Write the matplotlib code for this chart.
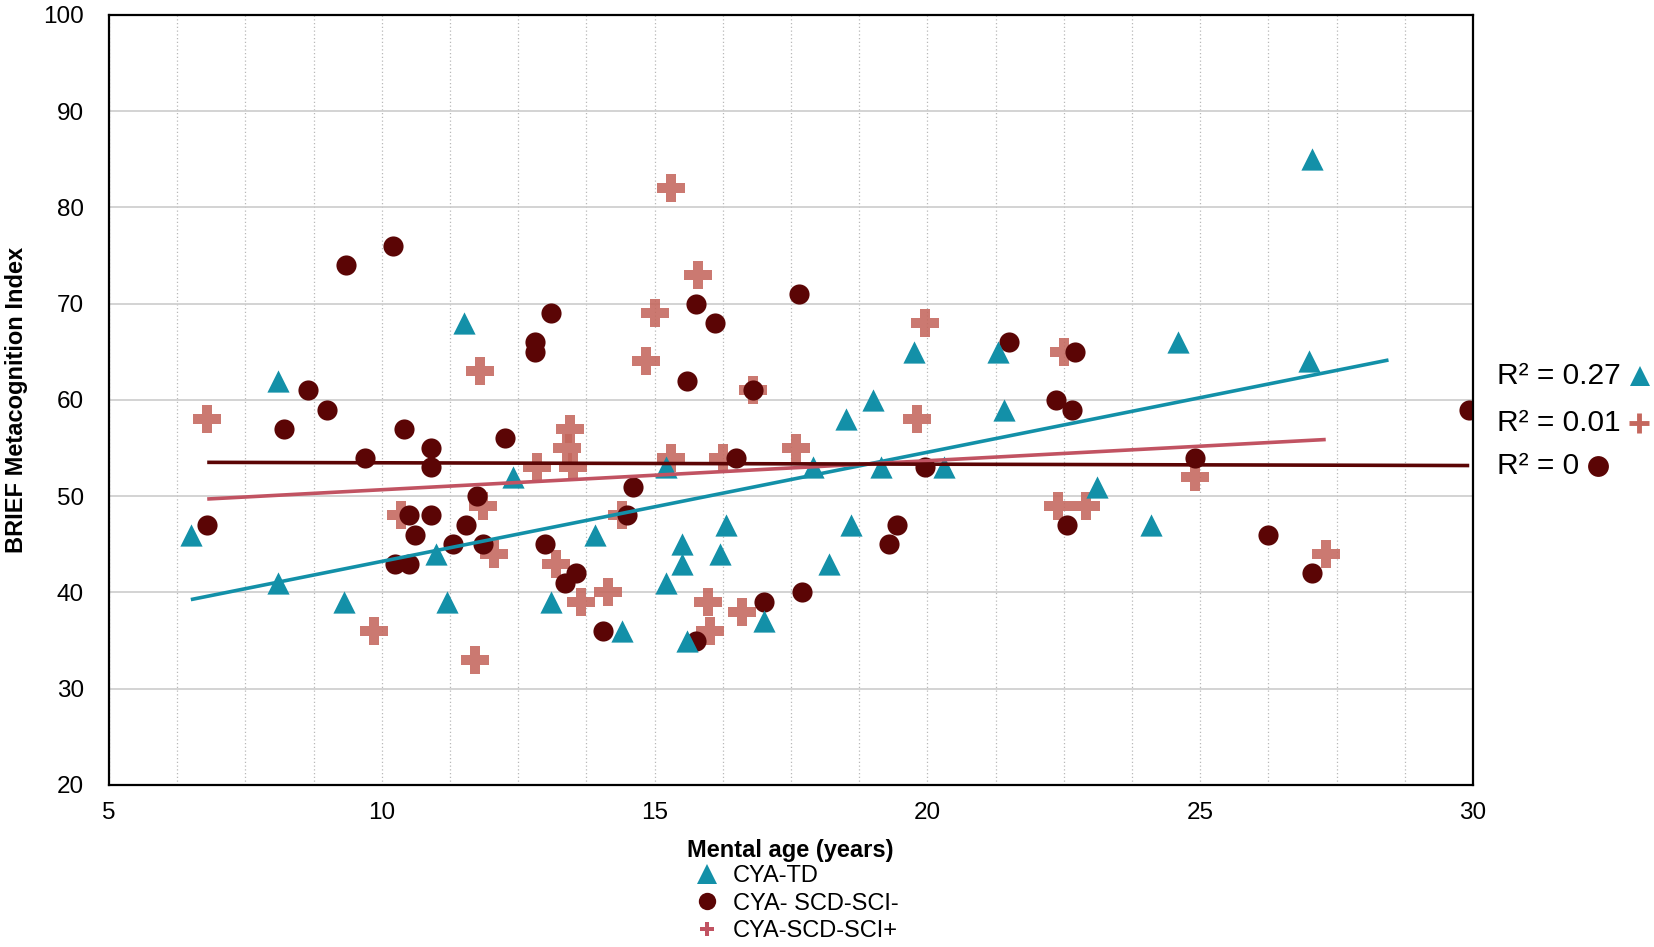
import numpy as np
import matplotlib
matplotlib.use('Agg')
import matplotlib.pyplot as plt
from matplotlib.lines import Line2D

plt.rcParams['font.family'] = ['Liberation Sans', 'DejaVu Sans']

# CYA-TD (triangles)
td_x = [6.5, 8.1, 8.1, 9.3, 11.0, 11.2, 11.5, 12.4, 13.1, 13.9, 14.4, 15.2, 15.2, 15.5,
        15.5, 15.6, 16.2, 16.3, 17.0, 17.9, 18.2, 18.5, 18.6, 19.0, 19.15, 19.75, 20.3,
        21.3, 21.4, 23.1, 24.1, 24.6, 27.0, 27.05]
td_y = [46, 62, 41, 39, 44, 39, 68, 52, 39, 46, 36, 41, 53, 45,
        43, 35, 44, 47, 37, 53, 43, 58, 47, 60, 53, 65, 53,
        65, 59, 51, 47, 66, 64, 85]

# CYA- SCD-SCI- (circles)
neg_x = [6.8, 8.2, 8.65, 9.0, 9.35, 9.7, 10.2, 10.25, 10.4, 10.5, 10.5, 10.6, 10.9, 10.9,
         10.9, 11.3, 11.55, 11.75, 11.85, 12.25, 12.8, 12.8, 13.0, 13.1, 13.35, 13.55,
         14.05, 14.5, 14.6, 15.6, 15.75, 15.75, 16.1, 16.5, 16.8, 17.0, 17.65, 17.7,
         19.95, 19.3, 19.45, 21.5, 22.35, 22.55, 22.65, 22.7, 24.9, 26.25, 27.05, 29.93]
neg_y = [47, 57, 61, 59, 74, 54, 76, 43, 57, 43, 48, 46, 48, 55,
         53, 45, 47, 50, 45, 56, 66, 65, 45, 69, 41, 42,
         36, 48, 51, 62, 35, 70, 68, 54, 61, 39, 71, 40,
         53, 45, 47, 66, 60, 47, 59, 65, 54, 46, 42, 59]

# CYA-SCD-SCI+ (plus)
pos_x = [6.8, 9.85, 10.35, 11.7, 11.8, 11.85, 12.05, 12.85, 13.2, 13.45, 13.4, 13.5,
         13.65, 14.15, 14.4, 14.85, 15.0, 15.3, 15.3, 15.8, 15.98, 16.02, 16.25, 16.6,
         16.8, 17.6, 19.8, 19.95, 22.5, 22.4, 22.9, 24.9, 27.3]
pos_y = [58, 36, 48, 33, 63, 49, 44, 53, 43, 57, 55, 53,
         39, 40, 48, 64, 69, 82, 54, 73, 39, 36, 54, 38,
         61, 55, 58, 68, 65, 49, 49, 52, 44]

r2_labels = ['R\u00b2 = 0.27', 'R\u00b2 = 0.01', 'R\u00b2 = 0']
legend_labels = ['CYA-TD', 'CYA- SCD-SCI-', 'CYA-SCD-SCI+']
td_forward = 1.4   # trendline forward forecast for CYA-TD

teal = '#1390a8'
maroon = '#5b0505'
salmon = '#c4675d'
rose = '#c15362'

fig = plt.figure(figsize=(16.54, 9.47), dpi=100)
ax = fig.add_axes([0.0659, 0.1711, 0.8247, 0.8131])

ax.set_xlim(5, 30)
ax.set_ylim(20, 100)
ax.set_xticks(np.arange(5, 31, 5))
ax.set_xticks(np.arange(5, 30.01, 1.25), minor=True)
ax.set_yticks(np.arange(20, 101, 10))
ax.tick_params(axis='both', which='both', length=0, labelsize=17.5)
ax.tick_params(axis='y', pad=18)
ax.tick_params(axis='x', pad=12)

ax.grid(axis='y', which='major', color='#cccccc', lw=1.2, zorder=0)
ax.grid(axis='x', which='minor', color='#b8b8b8', lw=0.9, ls=(0, (1, 2)), zorder=0)
ax.grid(axis='x', which='major', color='#b8b8b8', lw=0.9, ls=(0, (1, 2)), zorder=0)
ax.set_axisbelow(True)
for s in ax.spines.values():
    s.set_linewidth(1.6)
    s.set_color('black')

# markers
ax.scatter(pos_x, pos_y, marker='P', s=20**2, color=salmon, alpha=0.88, linewidths=0, zorder=2)
ax.scatter(neg_x, neg_y, marker='o', s=14.5**2, color=maroon, linewidths=0, zorder=2.1)
ax.scatter(td_x, td_y, marker='^', s=16**2, color=teal, linewidths=0, zorder=2.2)

# linear trendlines
def trend(xs, ys, color, forward=0):
    a, b = np.polyfit(xs, ys, 1)
    xx = np.array([min(xs), max(xs) + forward])
    ax.plot(xx, a * xx + b, color=color, lw=2.6, zorder=3, solid_capstyle='butt')

trend(td_x, td_y, teal, td_forward)
trend(pos_x, pos_y, rose)
trend(neg_x, neg_y, maroon)

fig.text(0.0100, 0.5777, 'BRIEF Metacognition Index', rotation=90, ha='center',
         va='center', fontsize=17, fontweight='bold')
fig.text(0.478, 0.1024, 'Mental age (years)', ha='center', va='center',
         fontsize=17, fontweight='bold')

handles = [Line2D([], [], ls='none', marker='^', ms=14, color=teal, mew=0),
           Line2D([], [], ls='none', marker='o', ms=12.5, color=maroon, mew=0),
           Line2D([], [], ls='none', marker='P', ms=9.5, color=rose, mew=0)]
fig.legend(handles, legend_labels, loc='upper left', bbox_to_anchor=(0.4203, 0.0865),
           frameon=False, fontsize=17, borderpad=0, borderaxespad=0, handlelength=1.0,
           handletextpad=0.61, labelspacing=0.23)

# R² labels with their marker after the text
r2_y = [0.6030, 0.5536, 0.5079]
r2_marks = [dict(marker='^', ms=15, color=teal, mew=0),
            dict(marker='+', ms=15, color=salmon, mew=3.5),
            dict(marker='o', ms=15, color=maroon, mew=0)]
texts = [fig.text(0.905, yy, lab, ha='left', va='center', fontsize=21.5)
         for yy, lab in zip(r2_y, r2_labels)]
fig.canvas.draw()
rend = fig.canvas.get_renderer()
W, H = fig.bbox.width, fig.bbox.height
for t, yy, mk in zip(texts, r2_y, r2_marks):
    bb = t.get_window_extent(rend)
    fig.add_artist(Line2D([(bb.x1 + 19) / W], [yy], ls='none',
                          transform=fig.transFigure, **mk))

fig.savefig('out.png', dpi=100)
